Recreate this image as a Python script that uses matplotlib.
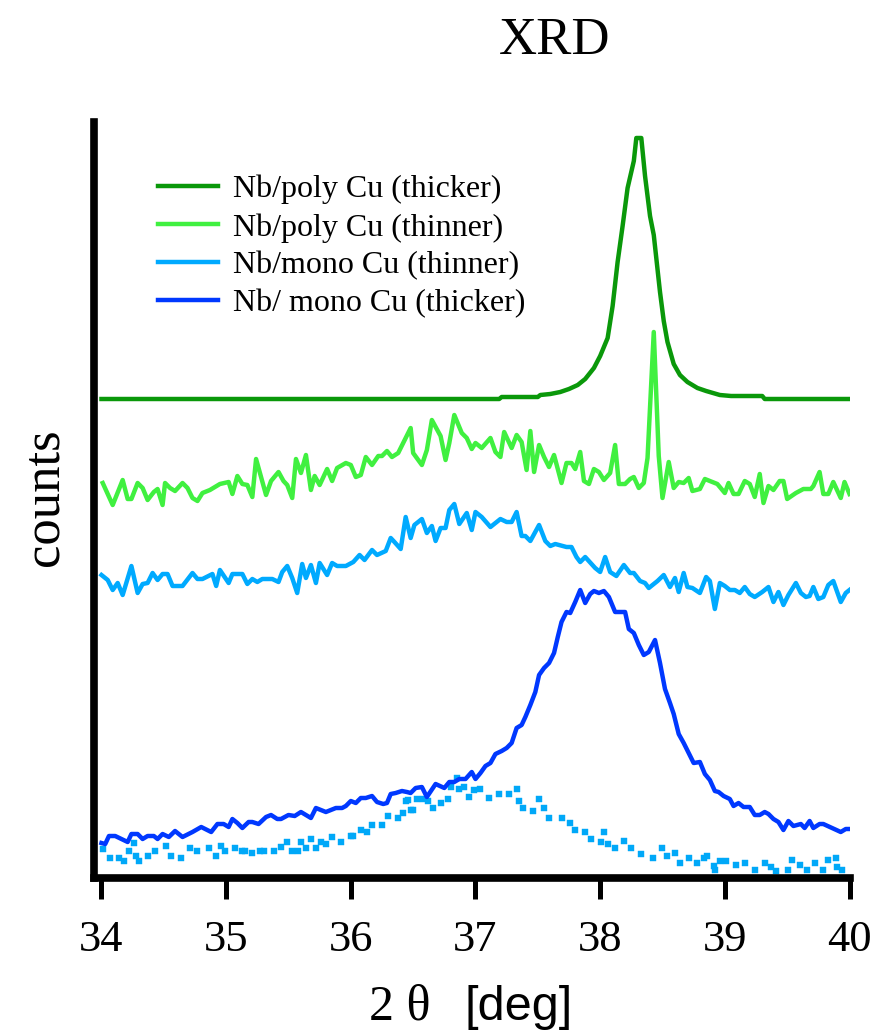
import numpy as np
import matplotlib
matplotlib.use('Agg')
import matplotlib.pyplot as plt

# --- data (2theta in deg, counts in arbitrary offset units) ---
poly_thick_x = [34.00, 37.19, 37.21, 37.50, 37.52, 37.60, 37.68, 37.75, 37.82, 37.88, 37.95, 38.00,
                38.06, 38.10, 38.14, 38.18, 38.22, 38.27, 38.29, 38.33, 38.36, 38.40, 38.43, 38.48,
                38.51, 38.54, 38.59, 38.64, 38.70, 38.78, 38.85, 38.96, 39.05, 39.30, 39.32, 40.00]
poly_thick_y = [477, 477, 479, 479, 481, 482, 484, 487, 491, 497, 508, 520,
                538, 570, 614, 650, 688, 715, 738, 738, 700, 660, 641, 584,
                555, 534, 512, 501, 494, 488, 485, 481, 480, 480, 477, 477]

poly_thin_x = [34.01, 34.09, 34.17, 34.21, 34.24, 34.29, 34.33, 34.37, 34.42, 34.45, 34.49, 34.51,
               34.55, 34.59, 34.65, 34.69, 34.73, 34.77, 34.81, 34.87, 34.95, 35.02, 35.05, 35.09,
               35.13, 35.17, 35.21, 35.24, 35.28, 35.32, 35.36, 35.42, 35.46, 35.49, 35.53, 35.56,
               35.60, 35.64, 35.68, 35.71, 35.75, 35.81, 35.85, 35.89, 35.96, 36.00, 36.04, 36.08,
               36.12, 36.17, 36.22, 36.25, 36.29, 36.33, 36.38, 36.42, 36.48, 36.50, 36.57, 36.61,
               36.65, 36.72, 36.76, 36.79, 36.83, 36.89, 36.93, 36.97, 37.00, 37.05, 37.12, 37.16,
               37.20, 37.23, 37.29, 37.33, 37.37, 37.41, 37.44, 37.47, 37.51, 37.55, 37.59, 37.63,
               37.69, 37.73, 37.77, 37.80, 37.84, 37.87, 37.91, 37.95, 37.99, 38.03, 38.08, 38.12,
               38.15, 38.20, 38.24, 38.27, 38.31, 38.35, 38.38, 38.43, 38.47, 38.50, 38.55, 38.59,
               38.63, 38.67, 38.71, 38.74, 38.80, 38.84, 38.90, 38.94, 39.00, 39.03, 39.07, 39.11,
               39.16, 39.20, 39.24, 39.28, 39.31, 39.35, 39.39, 39.44, 39.47, 39.50, 39.57, 39.63,
               39.69, 39.71, 39.76, 39.79, 39.83, 39.87, 39.93, 39.96, 40.00]
poly_thin_y = [393, 371, 396, 377, 377, 393, 388, 376, 384, 387, 371, 393,
               388, 385, 393, 388, 378, 375, 383, 386, 392, 394, 382, 400,
               392, 391, 379, 417, 399, 381, 395, 404, 395, 391, 378, 417,
               403, 421, 386, 400, 391, 407, 395, 408, 413, 411, 399, 401,
               419, 411, 420, 420, 425, 419, 423, 433, 448, 423, 411, 426,
               456, 440, 416, 433, 461, 443, 438, 427, 433, 428, 438, 424,
               419, 444, 428, 441, 434, 406, 445, 404, 431, 419, 409, 421,
               393, 413, 413, 407, 424, 395, 392, 407, 404, 396, 403, 431,
               392, 392, 397, 399, 388, 393, 418, 544, 420, 378, 414, 388,
               394, 393, 398, 385, 387, 397, 394, 392, 383, 393, 382, 382,
               395, 392, 379, 402, 373, 390, 386, 395, 395, 377, 383, 387,
               387, 390, 404, 382, 382, 394, 378, 394, 382]

mono_thin_x = [34.00, 34.05, 34.09, 34.13, 34.17, 34.24, 34.29, 34.33, 34.37, 34.41, 34.45, 34.49,
               34.53, 34.57, 34.65, 34.73, 34.77, 34.81, 34.89, 34.92, 34.95, 35.02, 35.05, 35.13,
               35.17, 35.21, 35.25, 35.29, 35.37, 35.42, 35.45, 35.49, 35.53, 35.57, 35.61, 35.64,
               35.68, 35.72, 35.75, 35.81, 35.85, 35.89, 35.96, 36.02, 36.07, 36.11, 36.17, 36.21,
               36.28, 36.32, 36.35, 36.40, 36.44, 36.48, 36.51, 36.57, 36.61, 36.65, 36.68, 36.72,
               36.76, 36.79, 36.83, 36.87, 36.93, 36.97, 37.00, 37.05, 37.12, 37.20, 37.25, 37.29,
               37.33, 37.37, 37.40, 37.44, 37.51, 37.56, 37.60, 37.64, 37.73, 37.77, 37.81, 37.84,
               37.88, 37.96, 38.00, 38.04, 38.08, 38.13, 38.19, 38.24, 38.27, 38.32, 38.36, 38.39,
               38.46, 38.51, 38.56, 38.60, 38.63, 38.67, 38.70, 38.74, 38.80, 38.85, 38.88, 38.92,
               38.96, 39.00, 39.04, 39.08, 39.12, 39.16, 39.20, 39.24, 39.30, 39.35, 39.39, 39.43,
               39.47, 39.51, 39.57, 39.61, 39.65, 39.68, 39.71, 39.75, 39.79, 39.83, 39.87, 39.93,
               39.97, 40.00]
mono_thin_y = [301, 296, 286, 293, 281, 310, 283, 292, 293, 303, 296, 302,
               302, 290, 290, 303, 297, 297, 302, 290, 306, 293, 302, 302,
               292, 297, 294, 297, 297, 294, 304, 310, 298, 283, 312, 298,
               311, 293, 313, 301, 313, 310, 310, 314, 321, 316, 326, 321,
               325, 338, 334, 327, 359, 338, 351, 357, 343, 350, 335, 348,
               348, 366, 372, 352, 363, 346, 364, 359, 349, 357, 354, 354,
               364, 340, 340, 335, 351, 335, 330, 332, 329, 329, 319, 314,
               319, 308, 304, 319, 304, 300, 311, 303, 303, 295, 293, 288,
               295, 301, 289, 298, 284, 303, 289, 288, 283, 299, 295, 267,
               293, 290, 286, 286, 283, 289, 282, 279, 284, 289, 274, 284,
               271, 281, 293, 283, 279, 280, 289, 277, 279, 291, 295, 274,
               283, 286]

mono_thick_x = [34.00, 34.03, 34.06, 34.11, 34.21, 34.24, 34.29, 34.33, 34.37, 34.42, 34.45, 34.49,
                34.54, 34.59, 34.65, 34.73, 34.80, 34.88, 34.93, 34.98, 35.02, 35.05, 35.09, 35.13,
                35.18, 35.21, 35.26, 35.32, 35.36, 35.41, 35.44, 35.50, 35.55, 35.60, 35.64, 35.68,
                35.72, 35.80, 35.88, 35.93, 35.96, 36.00, 36.04, 36.08, 36.12, 36.17, 36.21, 36.26,
                36.29, 36.32, 36.36, 36.41, 36.45, 36.48, 36.52, 36.57, 36.61, 36.68, 36.75, 36.79,
                36.83, 36.87, 36.92, 36.97, 37.00, 37.04, 37.08, 37.12, 37.16, 37.21, 37.25, 37.29,
                37.33, 37.37, 37.40, 37.44, 37.48, 37.51, 37.55, 37.59, 37.63, 37.66, 37.69, 37.73,
                37.76, 37.80, 37.84, 37.88, 37.92, 37.95, 37.99, 38.03, 38.07, 38.12, 38.20, 38.23,
                38.27, 38.31, 38.35, 38.39, 38.44, 38.48, 38.52, 38.56, 38.59, 38.63, 38.67, 38.71,
                38.75, 38.80, 38.84, 38.88, 38.92, 38.95, 38.99, 39.04, 39.07, 39.11, 39.15, 39.20,
                39.24, 39.28, 39.32, 39.35, 39.39, 39.43, 39.47, 39.51, 39.55, 39.61, 39.64, 39.68,
                39.71, 39.76, 39.79, 39.86, 39.93, 39.97, 40.00]
mono_thick_y = [33, 32, 40, 40, 34, 42, 42, 37, 40, 40, 37, 42,
                39, 45, 39, 44, 49, 44, 52, 52, 49, 57, 53, 48,
                54, 54, 52, 59, 61, 57, 57, 61, 60, 64, 61, 58,
                68, 64, 68, 68, 70, 75, 73, 78, 78, 80, 74, 72,
                73, 82, 83, 85, 84, 83, 88, 89, 79, 92, 88, 94,
                94, 97, 97, 104, 97, 103, 110, 113, 122, 125, 128, 133,
                148, 151, 159, 171, 184, 201, 208, 213, 223, 239, 254, 264,
                263, 274, 286, 273, 282, 285, 283, 285, 279, 264, 264, 247,
                243, 231, 221, 224, 236, 213, 187, 173, 162, 142, 133, 123,
                113, 114, 102, 96, 85, 84, 80, 77, 70, 73, 69, 69,
                61, 61, 64, 62, 57, 54, 46, 55, 50, 52, 48, 55,
                48, 52, 52, 48, 44, 47, 47]

dots_x = [34.01, 34.07, 34.14, 34.18, 34.22, 34.26, 34.28, 34.30, 34.37, 34.43, 34.52, 34.56,
          34.64, 34.71, 34.77, 34.86, 34.92, 34.96, 34.99, 35.07, 35.13, 35.15, 35.21, 35.27,
          35.30, 35.38, 35.44, 35.49, 35.53, 35.58, 35.60, 35.64, 35.68, 35.72, 35.76, 35.80,
          35.85, 35.92, 36.00, 36.02, 36.08, 36.13, 36.17, 36.25, 36.30, 36.38, 36.42, 36.44,
          36.46, 36.48, 36.50, 36.53, 36.58, 36.62, 36.66, 36.72, 36.78, 36.80, 36.85, 36.87,
          36.91, 36.95, 36.99, 37.04, 37.11, 37.19, 37.27, 37.33, 37.35, 37.38, 37.46, 37.51,
          37.55, 37.59, 37.69, 37.76, 37.80, 37.88, 37.93, 38.01, 38.03, 38.06, 38.12, 38.19,
          38.25, 38.33, 38.42, 38.50, 38.54, 38.60, 38.64, 38.71, 38.78, 38.83, 38.86, 38.91,
          38.92, 38.96, 39.01, 39.09, 39.16, 39.24, 39.32, 39.37, 39.41, 39.51, 39.54, 39.60,
          39.66, 39.72, 39.79, 39.83, 39.89, 39.90, 39.94]
dots_y = [27, 18, 18, 15, 25, 33, 20, 15, 20, 25, 30, 20,
          18, 28, 25, 28, 20, 30, 25, 28, 25, 25, 23, 25,
          25, 25, 29, 34, 25, 25, 34, 28, 37, 28, 34, 32,
          39, 34, 40, 40, 46, 44, 51, 51, 60, 58, 63, 75,
          76, 66, 66, 77, 77, 75, 68, 73, 77, 89, 98, 87,
          89, 79, 86, 87, 78, 82, 82, 87, 75, 68, 65, 77,
          68, 58, 58, 53, 46, 44, 37, 34, 44, 32, 28, 35,
          28, 22, 18, 28, 20, 23, 13, 18, 13, 18, 20, 10,
          6, 15, 15, 11, 13, 6, 13, 9, 5, 6, 16, 11,
          6, 13, 6, 16, 18, 9, 6]

labels = ['Nb/poly Cu (thicker)', 'Nb/poly Cu (thinner)',
          'Nb/mono Cu (thinner)', 'Nb/ mono Cu (thicker)']
xticks = [34, 35, 36, 37, 38, 39, 40]

serif = ['Liberation Serif', 'DejaVu Serif']
sans = ['Liberation Sans', 'DejaVu Sans']

fig = plt.figure(figsize=(8.74, 10.32), dpi=100)
ax = fig.add_axes([93.5 / 874, 154 / 1032, 756 / 874, 756 / 1032])

ax.plot(dots_x, dots_y, ls='none', marker='s', ms=4.6, mew=0.3, color='#00A8F8')
ax.plot(poly_thick_x, poly_thick_y, color='#0A980A', lw=3.2, label=labels[0])
ax.plot(poly_thin_x, poly_thin_y, color='#40F040', lw=3.2, label=labels[1])
ax.plot(mono_thin_x, mono_thin_y, color='#00AAFF', lw=3.2, label=labels[2])
ax.plot(mono_thick_x, mono_thick_y, color='#0038FF', lw=3.2, label=labels[3])

ax.set_xlim(33.936, 40)
ax.set_ylim(-2, 754)
ax.set_xticks(xticks)
ax.set_yticks([])
for s in ['top', 'right']:
    ax.spines[s].set_visible(False)
for s in ['left', 'bottom']:
    ax.spines[s].set_linewidth(5.5)
ax.tick_params(axis='x', direction='out', length=15, width=3.6, pad=15, labelsize=32)
for t in ax.get_xticklabels():
    t.set_family(serif)

ax.legend(loc='upper left', bbox_to_anchor=(0.0847, 0.93), frameon=False,
          borderpad=0, borderaxespad=0, handlelength=1.9, handletextpad=0.47,
          labelspacing=0.27, prop={'family': serif, 'size': 23})

fig.text(555 / 874, 1 - 17 / 1032, 'XRD', ha='center', va='top', fontsize=38, family=serif)
fig.text(45 / 874, 1 - 497 / 1032, 'counts', ha='center', va='center', rotation=90,
         fontsize=38, family=serif)
fig.text(369 / 874, 12 / 1032, '2 \u03b8', ha='left', va='baseline', fontsize=36, family=serif)
fig.text(465 / 874, 12 / 1032, '[deg]', ha='left', va='baseline', fontsize=35, family=sans)

fig.savefig('out.png', dpi=100)
